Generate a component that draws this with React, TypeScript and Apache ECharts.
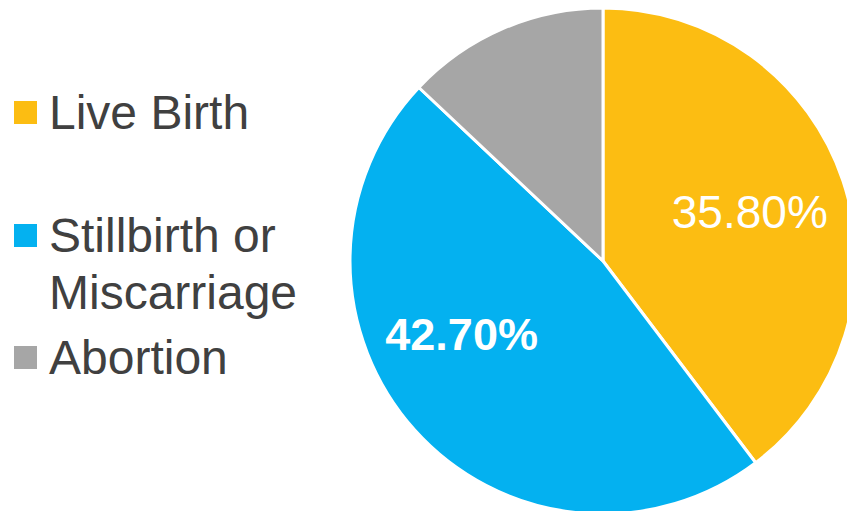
import React, { useEffect, useRef } from "react";
import * as echarts from "echarts";

const categories = ["Live Birth", "Stillbirth or Miscarriage", "Abortion"];
const values = [35.8, 42.7, 11.7];
const colors = ["#FCBD12", "#04B1F0", "#A6A6A6"];
const FONT = "'Liberation Sans', Arial, sans-serif";

export default function App() {
  const ref = useRef<HTMLDivElement>(null);
  useEffect(() => {
    if (!ref.current) return;
    const chart = echarts.init(ref.current, undefined, { renderer: "svg" });
    const legendBase = {
      orient: "vertical",
      left: 12,
      padding: 0,
      itemWidth: 25,
      itemHeight: 25,
      icon: "rect",
      selectedMode: false,
      textStyle: {
        fontFamily: FONT,
        fontSize: 48,
        color: "#404040",
        lineHeight: 57,
        padding: [0, 0, 0, 6],
      },
    };
    chart.setOption({
      animation: false,
      color: colors,
      legend: [
        { ...legendBase, top: 84, data: [categories[0]] },
        {
          ...legendBase,
          top: 150,
          data: [categories[1]],
          formatter: () => "\nStillbirth or\nMiscarriage",
        },
        { ...legendBase, top: 329, data: [categories[2]] },
      ],
      series: [
        {
          type: "pie",
          center: [603, 261],
          radius: 253,
          startAngle: 90,
          clockwise: true,
          avoidLabelOverlap: false,
          itemStyle: { borderColor: "#ffffff", borderWidth: 3 },
          labelLine: { show: false },
          emphasis: { disabled: true },
          data: categories.map((name, i) => ({
            name,
            value: values[i],
            label:
              i === 0
                ? {
                    show: true,
                    position: "inside",
                    offset: [24, -8],
                    formatter: (p: any) => p.value.toFixed(2) + "%",
                    color: "#ffffff",
                    fontFamily: FONT,
                    fontSize: 46,
                  }
                : i === 1
                ? {
                    show: true,
                    position: "inside",
                    offset: [-45, -13],
                    formatter: (p: any) => p.value.toFixed(2) + "%",
                    color: "#ffffff",
                    fontFamily: FONT,
                    fontSize: 45,
                    fontWeight: "bold",
                  }
                : { show: false },
          })),
        },
      ],
    });
    return () => chart.dispose();
  }, []);
  return <div ref={ref} style={{ width: 847, height: 511, position: "fixed", left: 0, top: 0, background: "#fff" }} />;
}
